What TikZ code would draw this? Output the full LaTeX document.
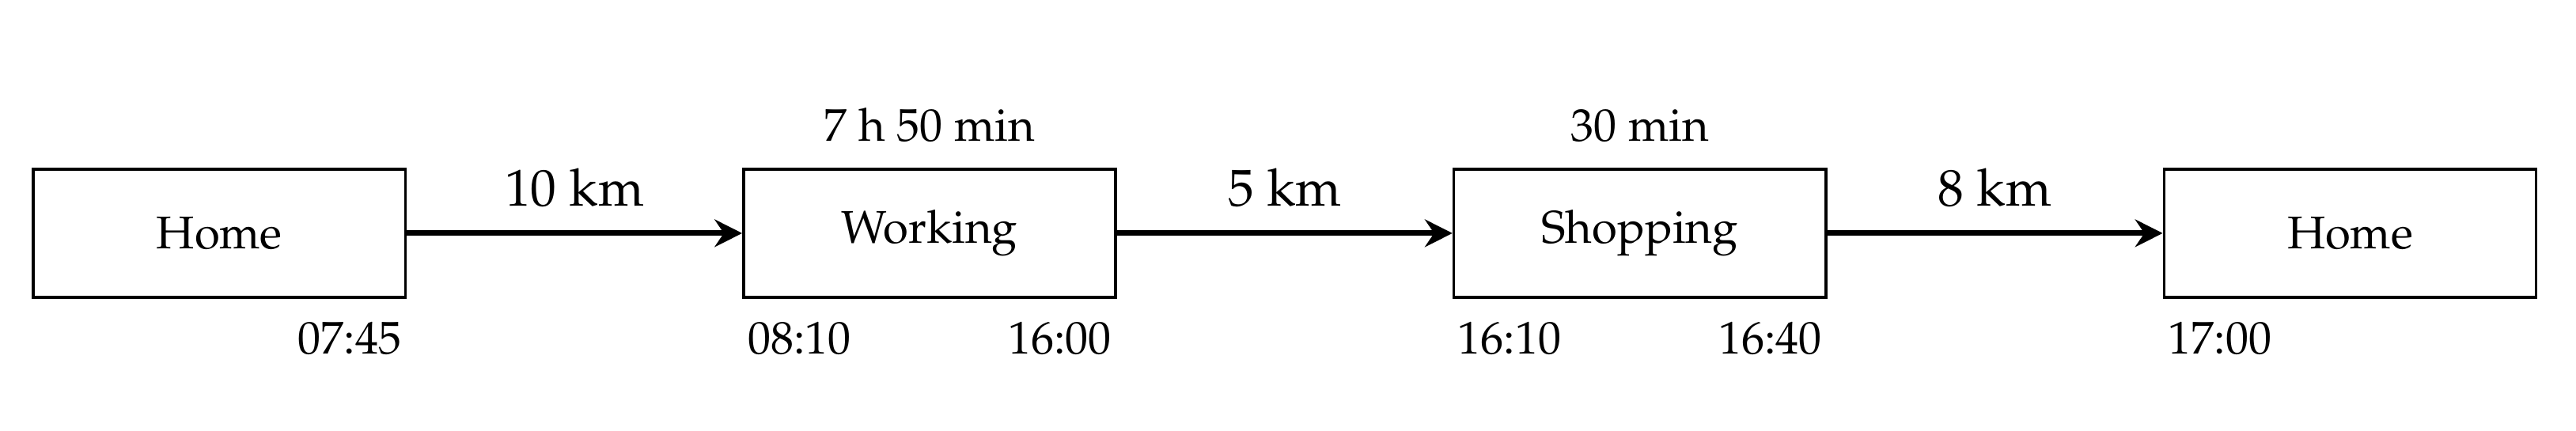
\documentclass[tikz,border=0pt]{standalone}
\usepackage[T1]{fontenc}
\usepackage{mathpazo}
\usetikzlibrary{positioning,arrows.meta}

\begin{document}
\begin{tikzpicture}[
		place/.style={draw, line width=0.6pt, minimum width=2.85cm, minimum height=0.98cm, inner sep=0pt},
		trip/.style={line width=1.2pt, -{Stealth[length=6pt,width=6pt,inset=2pt]}},
		clock/.style={inner sep=1pt},
		dist/.style={font=\fontsize{11.3}{13.6}\selectfont, above=1.8pt, midway}]
			\useasboundingbox (0,0) rectangle (19.73,3.297);
			\node[place] (home1) at (1.68,1.51) {Home};
			\node[place] (work) at (7.12,1.51) {Working};
			\node[place] (shop) at (12.56,1.51) {Shopping};
			\node[place] (home2) at (18.,1.51) {Home};
			\draw[trip] (home1) -- node[dist] {10 km} (work);
			\draw[trip] (work) -- node[dist] {5 km} (shop);
			\draw[trip] (shop) -- node[dist] {8 km} (home2);
			\node[clock, above=4.5pt of work] (stay1) {7 h 50 min};
			\node[clock, above=4.5pt of shop] (stay2) {30 min};
			\node[clock, below left=4pt and 0pt of home1.south east] (leave1) {07:45};
			\node[clock, below right=4pt and 0pt of work.south west] (arrive2) {08:10};
			\node[clock, below left=4pt and 0pt of work.south east] (leave2) {16:00};
			\node[clock, below right=4pt and 0pt of shop.south west] (arrive3) {16:10};
			\node[clock, below left=4pt and 0pt of shop.south east] (leave3) {16:40};
			\node[clock, below right=4pt and 0pt of home2.south west] (arrive4) {17:00};
		\end{tikzpicture}
\end{document}
